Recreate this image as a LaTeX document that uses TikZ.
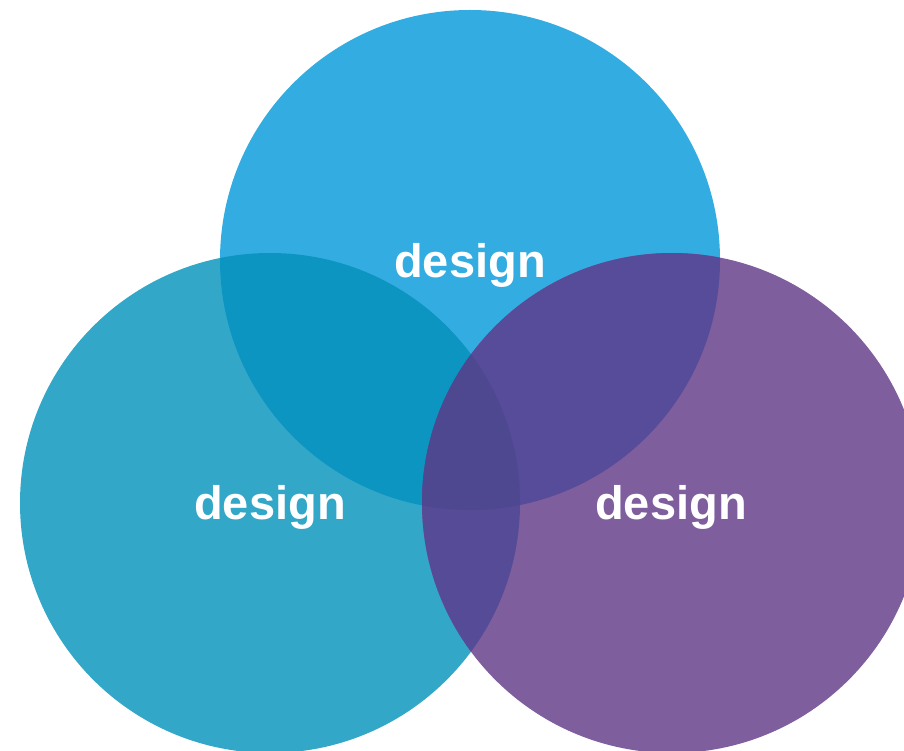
\documentclass[tikz,border=0pt]{standalone}
\usepackage{fontspec}
\setmainfont{Liberation Sans}
\usepackage{tikz}
\definecolor{topblue}{HTML}{33ADE1}
\definecolor{leftteal}{HTML}{33A7C8}
\definecolor{rightpurple}{HTML}{7F5E9E}
\definecolor{topleft}{HTML}{0C95C0}
\definecolor{topright}{HTML}{564C9A}
\definecolor{leftright}{HTML}{564B96}
\definecolor{allthree}{HTML}{4E4891}
\tikzset{label text/.style={text=white, font=\fontsize{47}{50}\selectfont\bfseries, anchor=base, inner sep=0pt}}
\def\topcirc{(470, 260) circle (250)}
\def\leftcirc{(270, 503) circle (250)}
\def\rightcirc{(672, 503) circle (250)}

\begin{document}
\begin{tikzpicture}[x=1pt, y=-1pt]
		%%%%% START %%%%%
		\useasboundingbox (0, 0) rectangle (904, 751);
		\clip (0, 0) rectangle (904, 751);
		
		\fill[leftteal] \leftcirc;
		\fill[topblue] \topcirc;
		\fill[rightpurple] \rightcirc;
		
		\begin{scope}
			\clip \topcirc;
			\fill[topleft] \leftcirc;
			\fill[topright] \rightcirc;
		\end{scope}
		\begin{scope}
			\clip \leftcirc;
			\fill[leftright] \rightcirc;
		\end{scope}
		\begin{scope}
			\clip \topcirc;
			\clip \leftcirc;
			\fill[allthree] \rightcirc;
		\end{scope}
		
		\node[label text] (toplabel) at (470, 277) {design};
		\node[label text] (leftlabel) at (270, 519) {design};
		\node[label text] (rightlabel) at (671, 519) {design};
		
		%%%%% END %%%%%
	\end{tikzpicture}
\end{document}
